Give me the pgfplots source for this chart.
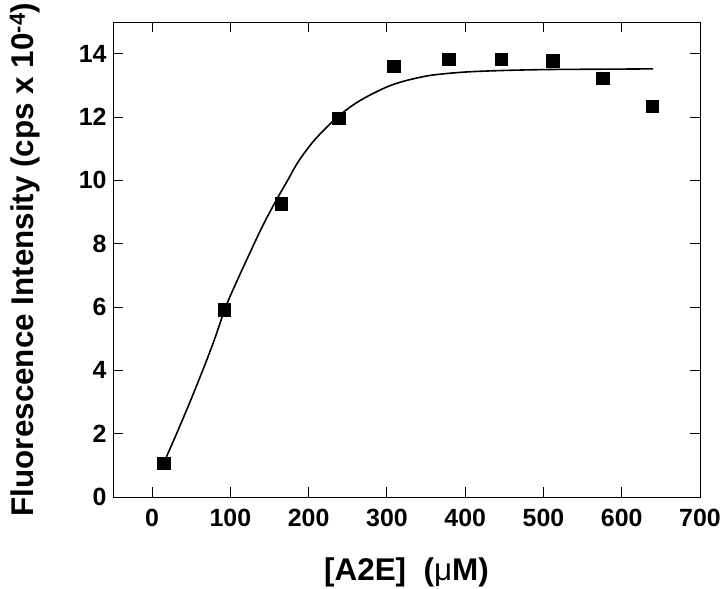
\documentclass[border=0pt]{standalone}
\usepackage{fontspec}
\setmainfont{Liberation Sans}
\usepackage{pgfplots}
\pgfplotsset{compat=1.18}
\begin{document}
\begin{tikzpicture}
\begin{axis}[
  scale only axis,
  width=587bp, height=475bp,
  xmin=-50, xmax=700, ymin=0, ymax=15,
  xtick={0,100,...,700}, ytick={0,2,...,14},
  tick align=inside, tick pos=both,
  major tick length=10bp,
  axis line style={line width=0.9pt},
  every tick/.style={line width=0.9pt, black},
  /pgf/number format/assume math mode=true,
  tick label style={font=\fontsize{25}{28}\selectfont\bfseries},
  xticklabel style={yshift=-9bp},
  yticklabel style={xshift=-3bp},
  label style={font=\fontsize{31.5}{34}\selectfont\bfseries},
  xlabel={[A2E]\ \ (\textmd{μ}M)},
  ylabel={Fluorescence Intensity (cps x 10\textsuperscript{-4})},
  xlabel style={at={(axis description cs:0.5,-0.158)}, anchor=center},
  ylabel style={at={(axis description cs:-0.15,0.5)}, anchor=center},
]
\addplot[black, line width=1.6pt, smooth, tension=0.55] coordinates {
(18,1.25) (33,2.1) (50,3.1) (67,4.15) (80,5.0) (94,6.0) (108,6.8) (121,7.5)
(140,8.5) (157,9.3) (172,9.95) (187,10.6) (205,11.2) (220,11.6) (236,11.98)
(255,12.35) (275,12.65) (300,12.95) (320,13.12) (340,13.24) (360,13.33)
(400,13.42) (450,13.47) (510,13.5) (580,13.51) (640,13.52)
};
\addplot[only marks, mark=square*, mark size=6.3bp, black] coordinates {
(15,1.07) (92,5.92) (165,9.27) (238,11.96) (309,13.6) (379,13.83)
(446,13.83) (512,13.77) (576,13.22) (639,12.34)
};
\end{axis}
\pgfresetboundingbox
\path[use as bounding box] (-113bp,-92bp) rectangle (607bp,497bp);
\end{tikzpicture}
\end{document}
